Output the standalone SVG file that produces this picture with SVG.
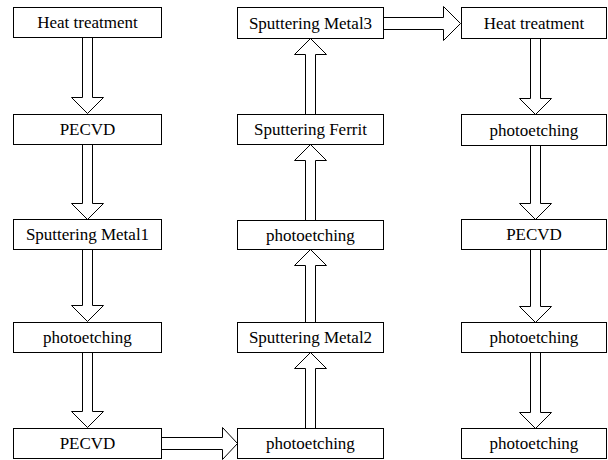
<svg xmlns="http://www.w3.org/2000/svg" width="608" height="460" viewBox="0 0 608 460">
<rect width="608" height="460" fill="#fff"/>
<g id="connectors" fill="#fff" stroke="#000" stroke-width="1">
<polygon points="82.5,37.5 92.5,37.5 92.5,97.5 103.5,97.5 87.5,113.5 71.5,97.5 82.5,97.5"/>
<polygon points="82.5,144.5 92.5,144.5 92.5,203.5 103.5,203.5 87.5,219.5 71.5,203.5 82.5,203.5"/>
<polygon points="82.5,249.5 92.5,249.5 92.5,305.5 103.5,305.5 87.5,321.5 71.5,305.5 82.5,305.5"/>
<polygon points="82.5,352.5 92.5,352.5 92.5,411.5 103.5,411.5 87.5,427.5 71.5,411.5 82.5,411.5"/>
<polygon points="161.5,437.5 222.5,437.5 222.5,427.5 237.5,443.5 222.5,459.5 222.5,449.5 161.5,449.5"/>
<polygon points="305.5,428.5 305.5,368.5 294.5,368.5 310.5,352.5 326.5,368.5 315.5,368.5 315.5,428.5"/>
<polygon points="305.5,322.5 305.5,265.5 294.5,265.5 310.5,249.5 326.5,265.5 315.5,265.5 315.5,322.5"/>
<polygon points="305.5,220.5 305.5,160.5 294.5,160.5 310.5,144.5 326.5,160.5 315.5,160.5 315.5,220.5"/>
<polygon points="305.5,114.5 305.5,54.5 294.5,54.5 310.5,38.5 326.5,54.5 315.5,54.5 315.5,114.5"/>
<polygon points="383.5,17.5 443.5,17.5 443.5,6.5 460.5,23.5 443.5,40.5 443.5,29.5 383.5,29.5"/>
<polygon points="530.5,38.5 540.5,38.5 540.5,98.5 551.5,98.5 535.5,114.5 519.5,98.5 530.5,98.5"/>
<polygon points="530.5,145.5 540.5,145.5 540.5,203.5 551.5,203.5 535.5,219.5 519.5,203.5 530.5,203.5"/>
<polygon points="530.5,249.5 540.5,249.5 540.5,306.5 551.5,306.5 535.5,322.5 519.5,306.5 530.5,306.5"/>
<polygon points="530.5,352.5 540.5,352.5 540.5,412.5 551.5,412.5 535.5,428.5 519.5,412.5 530.5,412.5"/>
</g>
<g id="n1"><rect x="13.5" y="7.5" width="148" height="30" fill="#fff" stroke="#000"/><text font-family="Liberation Serif, serif" font-size="17" text-anchor="middle" x="87.5" y="28">Heat treatment</text></g>
<g id="n2"><rect x="13.5" y="114.5" width="148" height="30" fill="#fff" stroke="#000"/><text font-family="Liberation Serif, serif" font-size="17" text-anchor="middle" x="87.5" y="135">PECVD</text></g>
<g id="n3"><rect x="13.5" y="219.5" width="148" height="30" fill="#fff" stroke="#000"/><text font-family="Liberation Serif, serif" font-size="17" text-anchor="middle" x="87.5" y="240">Sputtering Metal1</text></g>
<g id="n4"><rect x="13.5" y="322.5" width="148" height="30" fill="#fff" stroke="#000"/><text font-family="Liberation Serif, serif" font-size="17" text-anchor="middle" x="87.5" y="343">photoetching</text></g>
<g id="n5"><rect x="13.5" y="428.5" width="148" height="30" fill="#fff" stroke="#000"/><text font-family="Liberation Serif, serif" font-size="17" text-anchor="middle" x="87.5" y="449">PECVD</text></g>
<g id="n6"><rect x="237.5" y="428.5" width="146" height="30" fill="#fff" stroke="#000"/><text font-family="Liberation Serif, serif" font-size="17" text-anchor="middle" x="310.5" y="449">photoetching</text></g>
<g id="n7"><rect x="237.5" y="322.5" width="146" height="30" fill="#fff" stroke="#000"/><text font-family="Liberation Serif, serif" font-size="17" text-anchor="middle" x="310.5" y="343">Sputtering Metal2</text></g>
<g id="n8"><rect x="237.5" y="220.5" width="146" height="29" fill="#fff" stroke="#000"/><text font-family="Liberation Serif, serif" font-size="17" text-anchor="middle" x="310.5" y="240.5">photoetching</text></g>
<g id="n9"><rect x="237.5" y="114.5" width="146" height="30" fill="#fff" stroke="#000"/><text font-family="Liberation Serif, serif" font-size="17" text-anchor="middle" x="310.5" y="135">Sputtering Ferrit</text></g>
<g id="n10"><rect x="237.5" y="7.5" width="146" height="31" fill="#fff" stroke="#000"/><text font-family="Liberation Serif, serif" font-size="17" text-anchor="middle" x="310.5" y="28.5">Sputtering Metal3</text></g>
<g id="n11"><rect x="461.5" y="7.5" width="145" height="31" fill="#fff" stroke="#000"/><text font-family="Liberation Serif, serif" font-size="17" text-anchor="middle" x="534" y="28.5">Heat treatment</text></g>
<g id="n12"><rect x="461.5" y="114.5" width="145" height="31" fill="#fff" stroke="#000"/><text font-family="Liberation Serif, serif" font-size="17" text-anchor="middle" x="534" y="135.5">photoetching</text></g>
<g id="n13"><rect x="461.5" y="219.5" width="145" height="30" fill="#fff" stroke="#000"/><text font-family="Liberation Serif, serif" font-size="17" text-anchor="middle" x="534" y="240">PECVD</text></g>
<g id="n14"><rect x="461.5" y="322.5" width="145" height="30" fill="#fff" stroke="#000"/><text font-family="Liberation Serif, serif" font-size="17" text-anchor="middle" x="534" y="343">photoetching</text></g>
<g id="n15"><rect x="461.5" y="428.5" width="145" height="30" fill="#fff" stroke="#000"/><text font-family="Liberation Serif, serif" font-size="17" text-anchor="middle" x="534" y="449">photoetching</text></g>
</svg>
